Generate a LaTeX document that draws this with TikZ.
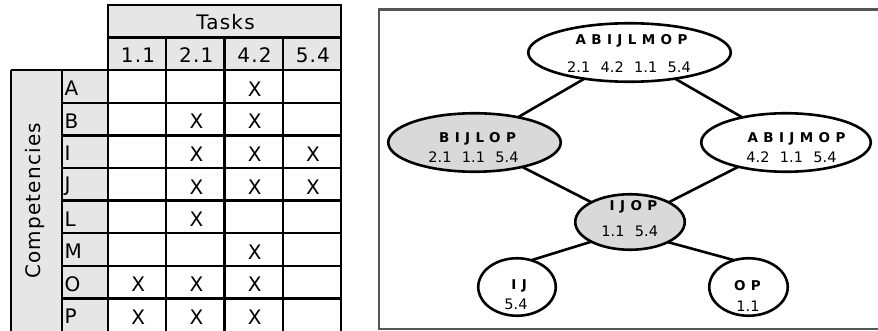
\documentclass[tikz,border=0pt]{standalone}
\usepackage{fontspec}
\setmainfont{DejaVu Sans}
\newfontfamily\tabfont[LetterSpace=6]{DejaVu Sans}
\newfontfamily\capfont[LetterSpace=40]{DejaVu Sans}
\newfontfamily\numfont{DejaVu Sans}
\usetikzlibrary{shapes.geometric}
\definecolor{hdr}{RGB}{230,230,230}
\definecolor{ellg}{RGB}{217,217,217}
\definecolor{frm}{RGB}{85,85,85}
\newcommand\gp{\hspace{0.72em}}
\tikzset{
  grid line/.style={line width=2.3pt, black},
  tab/.style={inner sep=0pt, font=\tabfont\fontsize{20}{22}\selectfont},
  ell/.style={ellipse, draw=black, line width=2.6pt, inner sep=0pt, outer sep=0pt},
  ellfill/.style={ell, fill=ellg},
  caps/.style={inner sep=0pt, anchor=base, font=\capfont\bfseries\fontsize{13.5}{15}\selectfont},
  nums/.style={inner sep=0pt, anchor=base, font=\numfont\fontsize{14.5}{16}\selectfont},
  edge/.style={line width=2.6pt, black}
}
\begin{document}
\begin{tikzpicture}[x=1pt,y=-1pt]
\useasboundingbox (0,0) rectangle (878,331);
% ---------- table fills
\fill[hdr] (108,5) rectangle (341,70.2);
\fill[hdr] (11,70.2) rectangle (108,332);
% ---------- table lines
\draw[grid line] (108,5) rectangle (341,70.2);
\draw[grid line] (108,37.6) -- (341,37.6);
\foreach \x in {166.25,224.5,282.75} \draw[grid line] (\x,37.6) -- (\x,332);
\foreach \x in {11,62,108,341} \draw[grid line] (\x,70.2) -- (\x,332);
\draw[grid line] (11,70.2) -- (62,70.2);
\foreach \i in {0,...,7} \draw[grid line] (62,70.2+32.6*\i) -- (341,70.2+32.6*\i);
\draw[grid line] (11,332) -- (341,332);
% ---------- table text
\node[tab] (tasks) at (225.5,21.8) {Tasks};
\foreach \t [count=\c from 0] in {1.1,2.1,4.2,5.4}
  \node[tab] (col\c) at (138.1+58.25*\c,55.5) {\t};
\node[tab, rotate=90] (comp) at (35,201) {Competencies};
\foreach \l [count=\r from 0] in {A,B,I,J,L,M,O,P}
  \node[tab, anchor=west] (row\r) at (64.5,88.5+32.6*\r) {\l};
\foreach \r/\c in {0/2, 1/1,1/2, 2/1,2/2,2/3, 3/1,3/2,3/3, 4/1, 5/2, 6/0,6/1,6/2, 7/0,7/1,7/2}
  \node[tab] (x\r-\c) at (138.1+58.25*\c,89+32.6*\r) {X};
% ---------- diagram frame
\draw[frm, line width=2.2pt] (878,9.5) -- (379,9.5) -- (379,329) -- (878,329);
% ---------- ellipses
\node[ell, minimum width=202.5pt, minimum height=58.5pt] (top) at (629.5,52.5) {};
\node[ellfill, minimum width=172.5pt, minimum height=58.5pt] (bij) at (474.5,142.5) {};
\node[ell, minimum width=169.5pt, minimum height=58.5pt] (abij) at (786,142.5) {};
\node[ellfill, minimum width=109.5pt, minimum height=55.5pt] (ijop) at (630,222) {};
\node[ell, minimum width=77.5pt, minimum height=57.5pt] (ij) at (517,287) {};
\node[ell, minimum width=78.5pt, minimum height=57.5pt] (op) at (748.5,287) {};
% ---------- texts
\node[caps] (topc) at (631.5,45) {ABIJLMOP};
\node[nums] (topn) at (629,72.5) {2.1\gp 4.2\gp 1.1\gp 5.4};
\node[caps] (bijc) at (477.5,143) {BIJLOP};
\node[nums] (bijn) at (473.5,162.5) {2.1\gp 1.1\gp 5.4};
\node[caps] (abijc) at (796.5,143) {ABIJMOP};
\node[nums] (abijn) at (791.5,163) {4.2\gp 1.1\gp 5.4};
\node[caps] (ijopc) at (633.5,210.5) {IJOP};
\node[nums] (ijopn) at (629.7,236.5) {1.1\gp 5.4};
\node[caps] (ijc) at (519.2,289) {IJ};
\node[nums] (ijn) at (516,309.5) {5.4};
\node[caps] (opc) at (747.5,290.5) {OP};
\node[nums] (opn) at (748,311) {1.1};
% ---------- edges
\draw[edge] (top) -- (bij);
\draw[edge] (top) -- (abij);
\draw[edge] (bij) -- (ijop);
\draw[edge] (abij) -- (ijop);
\draw[edge] (ijop.207.7) -- (ij.62.6);
\draw[edge] (ijop.332.3) -- (op.118);
\end{tikzpicture}
\end{document}
